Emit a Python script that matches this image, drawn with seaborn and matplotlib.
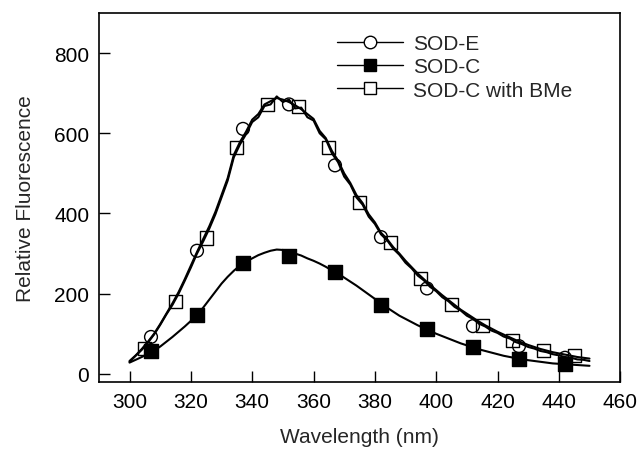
import numpy as np
import pandas as pd
import matplotlib
matplotlib.use("Agg")
import matplotlib.pyplot as plt
from matplotlib.lines import Line2D
import seaborn as sns

# ---- data ----
wl = [300, 302, 304, 306, 308, 310, 312, 314, 316, 318, 320, 322, 324, 326, 328, 330,
      332, 334, 336, 338, 340, 342, 344, 346, 348, 350, 352, 354, 356, 358, 360, 362,
      364, 366, 368, 370, 372, 374, 376, 378, 380, 382, 384, 386, 388, 390, 392, 394,
      396, 398, 400, 402, 404, 406, 408, 410, 412, 414, 416, 418, 420, 422, 424, 426,
      428, 430, 432, 434, 436, 438, 440, 442, 444, 446, 448, 450]

sod_e_line = [30, 45, 60, 78, 98, 122, 148, 172, 200, 232, 265, 300, 330, 362, 398, 440,
              482, 540, 572, 598, 628, 640, 668, 672, 692, 678, 684, 662, 664, 640, 632, 600,
              585, 550, 528, 492, 472, 440, 422, 392, 374, 348, 333, 312, 297, 277, 263, 245,
              233, 217, 206, 191, 181, 167, 158, 145, 137, 125, 118, 108, 102, 93, 88, 79,
              74, 67, 63, 57, 54, 49, 46, 42, 40, 36, 35, 32]

bme_line = [32, 46, 62, 80, 100, 124, 150, 176, 204, 236, 270, 304, 336, 368, 404, 446,
            488, 546, 578, 604, 634, 648, 672, 680, 688, 684, 678, 670, 660, 648, 636, 606,
            588, 556, 532, 500, 476, 446, 426, 398, 378, 352, 336, 316, 300, 282, 266, 250,
            236, 222, 209, 196, 184, 172, 160, 150, 140, 130, 121, 113, 105, 98, 91, 84,
            78, 72, 67, 62, 58, 54, 51, 48, 45, 42, 40, 38]

sod_c_line = [28, 35, 42, 50, 58, 68, 80, 92, 105, 118, 132, 146, 165, 185, 205, 225,
              242, 257, 270, 280, 288, 296, 302, 307, 310, 309, 305, 300, 295, 288, 282, 275,
              267, 258, 250, 240, 230, 220, 209, 198, 187, 176, 165, 155, 145, 137, 129, 121,
              114, 107, 100, 94, 88, 82, 76, 71, 66, 61, 57, 53, 49, 45, 42, 39,
              36, 34, 32, 30, 28, 26, 25, 24, 23, 22, 21, 20]

circ_x = [307, 322, 337, 352, 367, 382, 397, 412, 427, 442]
circ_y = [92, 307, 611, 672, 520, 341, 213, 119, 69, 40]

fill_x = [307, 322, 337, 352, 367, 382, 397, 412, 427, 442]
fill_y = [57, 146, 277, 295, 255, 171, 111, 67, 37, 25]

open_sq_x = [305, 315, 325, 335, 345, 355, 365, 375, 385, 395, 405, 415, 425, 435, 445]
open_sq_y = [64, 181, 339, 564, 671, 666, 564, 428, 327, 238, 173, 121, 84, 59, 45]

labels = ["SOD-E", "SOD-C", "SOD-C with BMe"]
x_ticks = [300, 320, 340, 360, 380, 400, 420, 440, 460]
y_ticks = [0, 200, 400, 600, 800]

# ---- plot ----
sns.set_theme(style="ticks")
plt.rcParams["font.family"] = ["Liberation Sans", "DejaVu Sans"]

fig = plt.figure(figsize=(6.42, 4.52), dpi=100)
ax = fig.add_axes([0.154, 0.153, 0.812, 0.816])

lines_df = pd.DataFrame({"wl": wl * 3,
                         "val": sod_e_line + sod_c_line + bme_line,
                         "series": [labels[0]] * len(wl) + [labels[1]] * len(wl) + [labels[2]] * len(wl)})
for s in labels:
    sns.lineplot(data=lines_df[lines_df.series == s], x="wl", y="val", ax=ax,
                 color="black", linewidth=1.5, legend=False, sort=False)

sns.scatterplot(x=circ_x, y=circ_y, ax=ax, marker="o", s=85, facecolor="none",
                edgecolor="black", linewidth=1.0, zorder=3)
sns.scatterplot(x=fill_x, y=fill_y, ax=ax, marker="s", s=90, color="black",
                edgecolor="black", linewidth=1.0, zorder=3)
sns.scatterplot(x=open_sq_x, y=open_sq_y, ax=ax, marker="s", s=90, facecolor="none",
                edgecolor="black", linewidth=1.0, zorder=3)

ax.set_xlim(290, 460)
ax.set_ylim(-20, 900)
ax.set_xticks(x_ticks)
ax.set_yticks(y_ticks)
ax.tick_params(direction="in", length=8, width=1, labelsize=15, colors="black",
               top=False, right=False, pad=7)
for sp in ax.spines.values():
    sp.set_visible(True)
    sp.set_color("black")
    sp.set_linewidth(1.2)
ax.set_xlabel("Wavelength (nm)", fontsize=15, labelpad=12)
ax.set_ylabel("Relative Fluorescence", fontsize=15, labelpad=14)

handles = [
    Line2D([], [], color="black", lw=1.0, marker="o", markersize=9,
           markerfacecolor="white", markeredgecolor="black"),
    Line2D([], [], color="black", lw=1.0, marker="s", markersize=9,
           markerfacecolor="black", markeredgecolor="black"),
    Line2D([], [], color="black", lw=1.0, marker="s", markersize=9,
           markerfacecolor="white", markeredgecolor="black"),
]
ax.legend(handles, labels, loc="upper left", bbox_to_anchor=(0.44, 0.965),
          frameon=False, fontsize=15, handlelength=3.2, handletextpad=0.45,
          labelspacing=0.2, borderaxespad=0)

fig.savefig("out.png", dpi=100)
